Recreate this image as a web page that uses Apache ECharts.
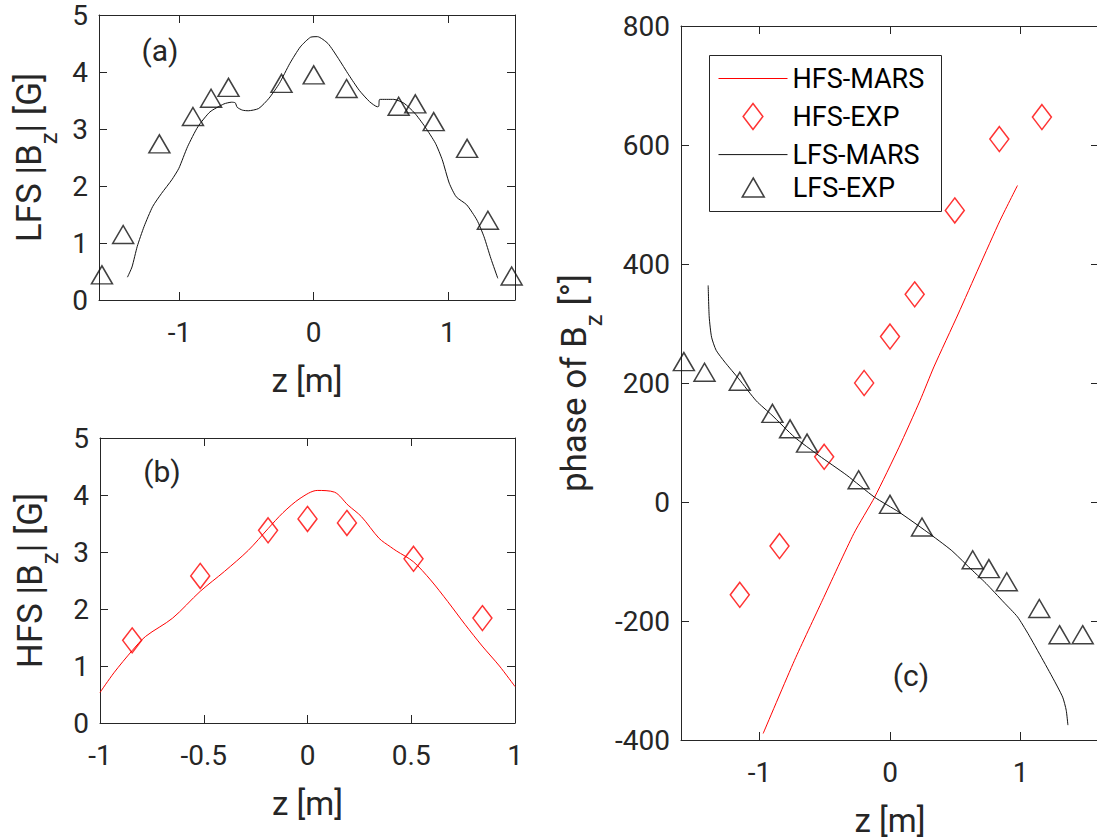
<!DOCTYPE html>
<html>
<head>
<meta charset="utf-8">
<script src="https://cdn.jsdelivr.net/npm/echarts@6/dist/echarts.min.js"></script>
<style>
html,body{margin:0;padding:0;background:#fff;}
#chart{width:1097px;height:839px;}
</style>
</head>
<body>
<div id="chart"></div>
<script>
// ---------- data ----------
// LFS probe positions and experimental values
const lfsZ = [-1.578, -1.42, -1.15, -0.90, -0.765, -0.635, -0.24, 0.0, 0.245, 0.633, 0.757, 0.894, 1.143, 1.298, 1.475];
const lfsAmpExp = [0.44, 1.15, 2.74, 3.22, 3.54, 3.73, 3.80, 3.95, 3.71, 3.40, 3.44, 3.13, 2.66, 1.40, 0.42];
const lfsPhaseExp = [236, 218, 203, 149, 123, 99, 37.5, -4, -42, -97, -112, -134, -179, -223, -223];

// HFS probe positions and experimental values
const hfsZ = [-1.15, -0.846, -0.504, -0.198, 0.0, 0.189, 0.496, 0.837, 1.163];
const hfsPhaseExp = [-156, -74, 76, 200, 278, 349, 490, 610, 647];
const hfsAmpZ = [-0.845, -0.517, -0.19, 0.0, 0.19, 0.511, 0.843];
const hfsAmpExp = [1.45, 2.58, 3.38, 3.58, 3.51, 2.88, 1.84];

// MARS curves
const lfsAmpMarsZ = [-1.388, -1.354, -1.315, -1.264, -1.2, -1.134, -1.057, -1.005, -0.94, -0.863, -0.773, -0.669, -0.612, -0.585, -0.57, -0.53, -0.488, -0.41, -0.333, -0.256, -0.178, -0.1, -0.023, 0.028, 0.106, 0.183, 0.261, 0.339, 0.416, 0.475, 0.485, 0.492, 0.597, 0.674, 0.752, 0.829, 0.907, 0.958, 1.01, 1.062, 1.14, 1.217, 1.269, 1.32, 1.372];
const lfsAmpMars = [0.40, 0.58, 0.94, 1.29, 1.64, 1.87, 2.11, 2.31, 2.69, 3.04, 3.30, 3.44, 3.47, 3.46, 3.38, 3.33, 3.32, 3.36, 3.54, 3.80, 4.15, 4.44, 4.61, 4.62, 4.50, 4.24, 3.95, 3.68, 3.48, 3.39, 3.40, 3.52, 3.52, 3.45, 3.28, 3.04, 2.75, 2.46, 2.05, 1.81, 1.67, 1.40, 1.11, 0.73, 0.38];

const hfsAmpMarsZ = [-1.0, -0.933, -0.845, -0.78, -0.65, -0.517, -0.4, -0.285, -0.19, -0.118, -0.036, 0.047, 0.13, 0.196, 0.26, 0.345, 0.40, 0.428, 0.51, 0.593, 0.676, 0.759, 0.842, 0.925, 1.0];
const hfsAmpMars = [0.535, 0.88, 1.27, 1.52, 1.84, 2.31, 2.66, 3.03, 3.41, 3.69, 3.94, 4.08, 4.05, 3.82, 3.62, 3.24, 3.09, 3.02, 2.83, 2.51, 2.13, 1.73, 1.35, 1.0, 0.64];

const lfsPhaseMarsZ = [-1.392, -1.384, -1.366, -1.331, -1.264, -1.158, -1.024, -0.904, -0.731, -0.544, -0.331, -0.118, 0.069, 0.282, 0.469, 0.602, 0.736, 0.869, 0.976, 1.056, 1.136, 1.242, 1.322, 1.349, 1.362];
const lfsPhaseMars = [364, 311, 277, 255, 235, 207, 170, 146, 109, 78, 45, 8, -17, -50, -81, -109, -137, -168, -193, -221, -252, -294, -328, -350, -375];

const hfsPhaseMarsZ = [-0.971, -0.731, -0.517, -0.277, -0.118, 0.069, 0.229, 0.336, 0.522, 0.682, 0.842, 0.976];
const hfsPhaseMars = [-389, -266, -165, -53, 8, 92, 170, 227, 316, 395, 473, 532];

// tick values
const zTicksWide = [-1, 0, 1];
const legendNames = ['HFS-MARS', 'HFS-EXP', 'LFS-MARS', 'LFS-EXP'];

// ---------- styling ----------
const FONT = 'Roboto, "Noto Sans", sans-serif';
const AX = '#262626';
const RED = '#ff0000';
const BLK = '#111111';

const pts = (xs, ys) => xs.map((x, i) => [x, ys[i]]);

function mkX(gi, min, max, pos, opts) {
  const a = {
    type: 'value', gridIndex: gi, min: min, max: max, position: pos,
    axisLine: {show: true, onZero: false, lineStyle: {color: AX, width: 1}},
    axisTick: {show: true, inside: true, length: 8, lineStyle: {color: AX, width: 1}},
    axisLabel: {show: pos === 'bottom', margin: 18, color: AX, fontSize: 28, fontFamily: FONT},
    splitLine: {show: false}
  };
  if (opts.interval) a.interval = opts.interval;
  if (opts.ticks) { a.axisTick.customValues = opts.ticks; a.axisLabel.customValues = opts.ticks; }
  if (opts.name) {
    a.name = opts.name; a.nameLocation = 'middle'; a.nameGap = 62;
    a.nameTextStyle = {fontSize: 33, lineHeight: 36, color: AX, fontFamily: FONT};
  }
  return a;
}
function mkY(gi, min, max, interval, pos, opts) {
  const a = {
    type: 'value', gridIndex: gi, min: min, max: max, interval: interval, position: pos,
    axisLine: {show: true, onZero: false, lineStyle: {color: AX, width: 1}},
    axisTick: {show: true, inside: true, length: 8, lineStyle: {color: AX, width: 1}},
    axisLabel: {show: pos === 'left', margin: 11, color: AX, fontSize: 28, fontFamily: FONT},
    splitLine: {show: false}
  };
  if (opts.name) {
    a.name = opts.name; a.nameLocation = 'middle'; a.nameGap = opts.gap; a.nameRotate = 90;
    a.nameTextStyle = {
      color: AX, fontFamily: FONT,
      rich: {
        m: {fontSize: 35, lineHeight: 35, verticalAlign: 'top', color: AX, fontFamily: FONT},
        s: {fontSize: 24, lineHeight: 48.5, verticalAlign: 'bottom', color: AX, fontFamily: FONT}
      }
    };
  }
  return a;
}

const triStyle = {color: 'transparent', borderColor: BLK, borderWidth: 1.5};
const diaStyle = {color: 'transparent', borderColor: RED, borderWidth: 1.5};
const noSymbol = {color: 'rgba(0,0,0,0)', borderColor: 'rgba(0,0,0,0)', borderWidth: 0, opacity: 0};

const option = {
  animation: false,
  backgroundColor: '#fff',
  grid: [
    {left: 99, top: 15, width: 416, height: 285, outerBoundsMode: 'none', containLabel: false},
    {left: 100, top: 438, width: 415, height: 285, outerBoundsMode: 'none', containLabel: false},
    {left: 681, top: 26, width: 418, height: 714, outerBoundsMode: 'none', containLabel: false}
  ],
  xAxis: [
    mkX(0, -1.6, 1.5, 'bottom', {ticks: zTicksWide, name: 'z [m]'}),
    mkX(0, -1.6, 1.5, 'top', {ticks: zTicksWide}),
    mkX(1, -1, 1, 'bottom', {interval: 0.5, name: 'z [m]'}),
    mkX(1, -1, 1, 'top', {interval: 0.5}),
    mkX(2, -1.6, 1.6, 'bottom', {ticks: zTicksWide, name: 'z [m]'}),
    mkX(2, -1.6, 1.6, 'top', {ticks: zTicksWide})
  ],
  yAxis: [
    mkY(0, 0, 5, 1, 'left', {name: '{m|LFS |B}{s|z}{m|| [G]}', gap: 38.5}),
    mkY(0, 0, 5, 1, 'right', {}),
    mkY(1, 0, 5, 1, 'left', {name: '{m|HFS |B}{s|z}{m|| [G]}', gap: 38.5}),
    mkY(1, 0, 5, 1, 'right', {}),
    mkY(2, -400, 800, 200, 'left', {name: '{m|phase of B}{s|z}{m| [°]}', gap: 75.5}),
    mkY(2, -400, 800, 200, 'right', {})
  ],
  legend: [
    {
      orient: 'vertical', left: 718, top: 65, padding: 0,
      itemWidth: 69, itemHeight: 26, itemGap: 10.8, selectedMode: false,
      symbolKeepAspect: true,
      textStyle: {fontSize: 27, lineHeight: 26, color: '#000', fontFamily: FONT},
      lineStyle: {width: 1},
      itemStyle: {borderWidth: 1.5},
      data: [
        {name: legendNames[0], itemStyle: noSymbol},
        {name: legendNames[1], icon: 'path://M9.5,0L19,12.5L9.5,25L0,12.5Z'},
        {name: legendNames[2], itemStyle: noSymbol}
      ]
    },
    {
      orient: 'vertical', left: 741.5, top: 174, padding: 0,
      itemWidth: 69, itemHeight: 19, selectedMode: false,
      symbolKeepAspect: true,
      textStyle: {fontSize: 27, lineHeight: 26, color: '#000', fontFamily: FONT},
      itemStyle: {borderWidth: 1.5},
      data: [
        {name: legendNames[3], icon: 'path://M11,0L22,19L0,19Z'}
      ]
    }
  ],
  graphic: [
    {type: 'rect', z: 100, silent: true,
     shape: {x: 709.5, y: 55.5, width: 232, height: 156},
     style: {fill: 'none', stroke: AX, lineWidth: 1}},
    {type: 'text', x: 160, y: 50, z: 100, silent: true,
     style: {text: '(a)', fontSize: 30, fontFamily: FONT, fill: AX, align: 'center', verticalAlign: 'middle'}},
    {type: 'text', x: 162, y: 471, z: 100, silent: true,
     style: {text: '(b)', fontSize: 30, fontFamily: FONT, fill: AX, align: 'center', verticalAlign: 'middle'}},
    {type: 'text', x: 911, y: 675, z: 100, silent: true,
     style: {text: '(c)', fontSize: 30, fontFamily: FONT, fill: AX, align: 'center', verticalAlign: 'middle'}}
  ],
  series: [
    // (a) LFS amplitude
    {name: 'LFS-MARS amp', type: 'line', xAxisIndex: 0, yAxisIndex: 0, data: pts(lfsAmpMarsZ, lfsAmpMars),
     symbol: 'none', smooth: 0.2, lineStyle: {color: BLK, width: 1}, silent: true},
    {name: 'LFS-EXP amp', type: 'scatter', xAxisIndex: 0, yAxisIndex: 0, data: pts(lfsZ, lfsAmpExp),
     symbol: 'triangle', symbolSize: [21, 18], itemStyle: triStyle, silent: true},
    // (b) HFS amplitude
    {name: 'HFS-MARS amp', type: 'line', xAxisIndex: 2, yAxisIndex: 2, data: pts(hfsAmpMarsZ, hfsAmpMars),
     symbol: 'none', smooth: 0.3, lineStyle: {color: RED, width: 1}, silent: true},
    {name: 'HFS-EXP amp', type: 'scatter', xAxisIndex: 2, yAxisIndex: 2, data: pts(hfsAmpZ, hfsAmpExp),
     symbol: 'diamond', symbolSize: [19, 25], itemStyle: diaStyle, silent: true},
    // (c) phases
    {name: legendNames[0], type: 'line', xAxisIndex: 4, yAxisIndex: 4, data: pts(hfsPhaseMarsZ, hfsPhaseMars),
     symbol: 'none', smooth: 0.2, lineStyle: {color: RED, width: 1}, itemStyle: {color: RED}, silent: true},
    {name: legendNames[1], type: 'scatter', xAxisIndex: 4, yAxisIndex: 4, data: pts(hfsZ, hfsPhaseExp),
     symbol: 'diamond', symbolSize: [19, 25], itemStyle: diaStyle, silent: true},
    {name: legendNames[2], type: 'line', xAxisIndex: 4, yAxisIndex: 4, data: pts(lfsPhaseMarsZ, lfsPhaseMars),
     symbol: 'none', smooth: 0.2, lineStyle: {color: BLK, width: 1}, itemStyle: {color: BLK}, silent: true},
    {name: legendNames[3], type: 'scatter', xAxisIndex: 4, yAxisIndex: 4, data: pts(lfsZ, lfsPhaseExp),
     symbol: 'triangle', symbolSize: [21, 18], itemStyle: triStyle, silent: true}
  ]
};

const chart = echarts.init(document.getElementById('chart'), null, {renderer: 'svg'});
chart.setOption(option);
</script>
</body>
</html>
